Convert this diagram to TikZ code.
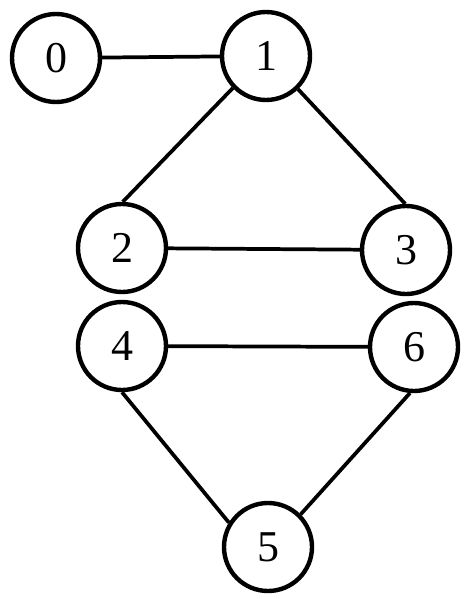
\documentclass[tikz,border=0pt]{standalone}
\usepackage{fontspec}
\setmainfont{Liberation Serif}
\begin{document}
\begin{tikzpicture}[x=0.75pt,y=-0.75pt,
  vert/.style={circle,draw,line width=3.3pt,minimum size=66pt,inner sep=0pt,font=\fontsize{33}{33}\selectfont},
  edge/.style={line width=2.8pt}]
\useasboundingbox (0,0) rectangle (465,596);
\node[vert] (n0) at (56,58) {0};
\node[vert] (n1) at (266,56) {1};
\node[vert] (n2) at (122,248) {2};
\node[vert] (n3) at (406,250) {3};
\node[vert] (n4) at (122,346) {4};
\node[vert] (n6) at (414,347) {6};
\node[vert] (n5) at (268,547) {5};
\draw[edge] (n0) -- (n1);
\draw[edge] (n1.-136) -- (n2.89);
\draw[edge] (n1.-46) -- (n3.91);
\draw[edge] (n2) -- (n3);
\draw[edge] (n4) -- (n6);
\draw[edge] (n4.-90) -- (n5.148);
\draw[edge] (n6.-95) -- (n5.45);
\end{tikzpicture}
\end{document}
